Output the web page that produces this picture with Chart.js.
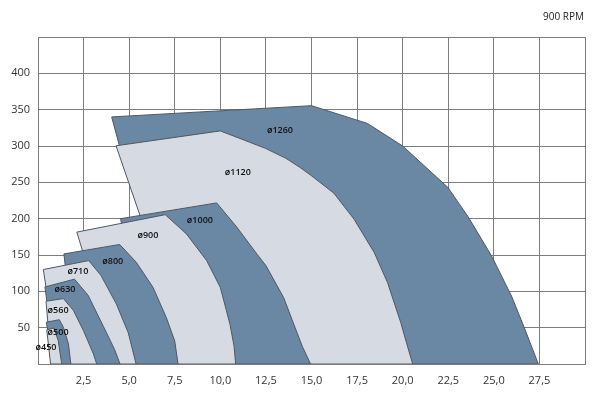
<!DOCTYPE html>
<html>
<head>
<meta charset="utf-8">
<script src="https://cdn.jsdelivr.net/npm/chart.js@4/dist/chart.umd.min.js"></script>
<style>
  html, body { margin: 0; padding: 0; background: #fff; }
  #wrap { width: 600px; height: 399px; position: relative; }
</style>
</head>
<body>
<div id="wrap"><canvas id="fanChart"></canvas></div>
<script>
// impeller sizes, smallest first (smallest is drawn on top)
const sizes = ['ø450', 'ø500', 'ø560', 'ø630', 'ø710', 'ø800', 'ø900', 'ø1000', 'ø1120', 'ø1260'];

// outline of each working area: flow (x) / pressure (y)
const area450  = [[0.69,0],[0.48,47],[0.88,49.5],[1.11,32],[1.3,0]];
const area500  = [[0.75,0],[0.55,45],[0.45,57.5],[1.17,61],[1.39,50.7],[1.67,27.7],[1.8,0]];
const area560  = [[0.9,0],[0.9,50],[0.55,55],[0.44,86.3],[1.39,90],[1.94,73.8],[2.49,46],[3.04,13.8],[3.22,0]];
const area630  = [[1.0,0],[1.0,75],[0.5,84],[0.38,106],[2.0,116.8],[2.75,94.5],[3.58,52],[4.2,20],[4.5,0]];
const area710  = [[1.2,0],[1.2,95],[0.45,104],[0.29,130],[2.78,142.3],[3.45,122],[4.3,82.5],[4.95,43],[5.38,0]];
const area800  = [[2.3,0],[2.3,120],[1.5,134],[1.42,151.5],[4.48,164.5],[5.39,140],[6.31,105.4],[7.04,63.8],[7.5,31.5],[7.68,0]];
const area900  = [[3.5,0],[3.5,140],[2.45,155],[2.13,181.5],[6.98,205.5],[8.14,179],[9.25,142.3],[10.0,105.4],[10.53,54.6],[10.75,25],[10.84,0]];
const area1000 = [[6,0],[6,150],[4.6,190],[4.53,200],[9.8,221.7],[10.9,188.5],[12.0,151.5],[12.5,135.4],[13.47,91.5],[14.03,54.6],[14.5,24],[14.95,0]];
const area1120 = [[7,0],[7,180],[5.6,204],[4.28,300.3],[10.0,320.8],[12.47,296.8],[13.6,283],[14.4,270],[15.0,259],[16.23,235],[17.33,199.4],[18.44,153.4],[19.17,112],[19.9,56.7],[20.2,30],[20.55,0]];
const area1260 = [[8,0],[8,250],[4.47,300],[4.04,340],[15.0,355.5],[18.07,331],[20.0,300],[22.48,243],[23.58,203],[24.87,149],[25.97,93.5],[26.71,47.5],[27.44,0]];

const areas = [area450, area500, area560, area630, area710, area800, area900, area1000, area1120, area1260];

// where the size names sit (data coordinates)
const labelSpots = [[0.44,23],[1.1,43],[1.1,74],[1.48,102],[2.19,128],[4.1,141.7],[6.03,177.5],[8.88,198],[10.96,263],[13.27,322]];

const xTicks = [2.5, 5.0, 7.5, 10.0, 12.5, 15.0, 17.5, 20.0, 22.5, 25.0, 27.5];
const yTicks = [50, 100, 150, 200, 250, 300, 350, 400];
const rpmLabel = '900 RPM';

const darkFill = '#6a87a4';
const lightFill = '#d6dbe3';
const gridColor = '#7d7d7d';

function buildDatasets() {
    return areas.map((pts, i) => {
        const closed = pts.concat([pts[0]]).map(([x, y]) => ({ x, y }));
        return {
            label: sizes[i],
            data: closed,
            showLine: true,
            fill: 'shape',
            backgroundColor: i % 2 === 0 ? lightFill : darkFill,
            borderColor: '#4e5864',
            borderWidth: 1,
            pointRadius: 0,
            tension: 0
        };
    });
}

const sizeLabels = {
    id: 'sizeLabels',
    afterDatasetsDraw(chart) {
        const { ctx, scales } = chart;
        ctx.save();
        ctx.font = '600 9px "Open Sans", sans-serif';
        ctx.fillStyle = '#111';
        ctx.textAlign = 'center';
        ctx.textBaseline = 'middle';
        labelSpots.forEach(([x, y], i) => {
            ctx.fillText(sizes[i], scales.x.getPixelForValue(x), scales.y.getPixelForValue(y));
        });
        ctx.font = '10px "Open Sans", sans-serif';
        ctx.fillStyle = '#222';
        ctx.textAlign = 'right';
        ctx.fillText(rpmLabel, 584, 17);
        ctx.restore();
    }
};

const ctx = document.getElementById('fanChart').getContext('2d');
const fanChart = new Chart(ctx, {
    type: 'scatter',
    data: { datasets: buildDatasets() },
    options: {
        responsive: true,
        maintainAspectRatio: false,
        animation: false,
        layout: { padding: { top: 37, right: 15, left: 0, bottom: 0 } },
        plugins: {
            legend: { display: false },
            tooltip: { enabled: false }
        },
        scales: {
            x: {
                type: 'linear',
                min: 0,
                max: 30,
                afterFit(scale) { scale.height = 35; },
                afterBuildTicks(scale) {
                    scale.ticks = [0].concat(xTicks, [30]).map(v => ({ value: v }));
                },
                grid: { color: gridColor, lineWidth: 1, drawTicks: false },
                border: { color: gridColor, width: 1 },
                ticks: {
                    padding: 10,
                    color: '#333',
                    font: { family: 'Open Sans', size: 11 },
                    maxRotation: 0,
                    callback: v => xTicks.includes(v) ? v.toFixed(1).replace('.', ',') : ''
                }
            },
            y: {
                type: 'linear',
                min: 0,
                max: 450,
                afterFit(scale) { scale.width = 38; },
                afterBuildTicks(scale) {
                    scale.ticks = [0].concat(yTicks, [450]).map(v => ({ value: v }));
                },
                grid: { color: gridColor, lineWidth: 1, drawTicks: false },
                border: { color: gridColor, width: 1 },
                ticks: {
                    padding: 8,
                    color: '#333',
                    font: { family: 'Open Sans', size: 11 },
                    callback: v => yTicks.includes(v) ? String(v) : ''
                }
            }
        }
    },
    plugins: [sizeLabels]
});
</script>
</body>
</html>
